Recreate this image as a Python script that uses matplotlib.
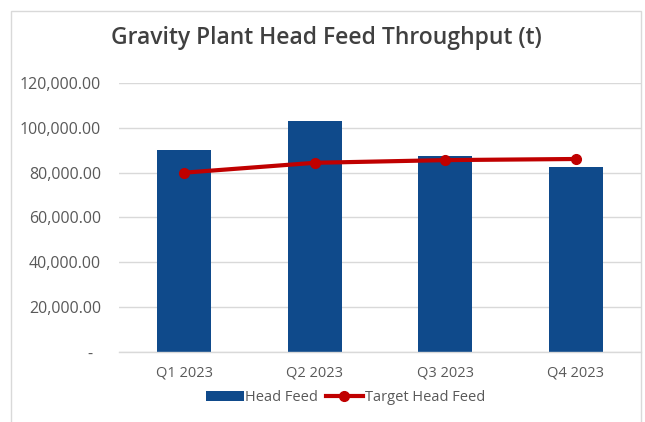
import matplotlib.pyplot as plt
import matplotlib.ticker as mticker
from matplotlib.patches import Rectangle
import numpy as np

quarters = ["Q1 2023", "Q2 2023", "Q3 2023", "Q4 2023"]
head_feed = [90100, 102900, 87400, 82600]
target_head_feed = [80000, 84400, 85600, 86100]

plt.rcParams['font.family'] = ['Open Sans', 'DejaVu Sans']

fig = plt.figure(figsize=(6.45, 4.22), dpi=100)
ax = fig.add_axes([119 / 645, 1 - 352 / 422, (641 - 119) / 645, (352 - 83) / 422])

x = np.arange(len(quarters))
bars = ax.bar(x, head_feed, width=0.41, color='#0F4A8B', label='Head Feed', zorder=2)
line, = ax.plot(x, target_head_feed, color='#C00000', lw=3, marker='o', ms=7,
                label='Target Head Feed', zorder=3)

ax.set_xlim(-0.5, 3.5)
ax.set_ylim(0, 120000)
ax.set_yticks(np.arange(0, 120001, 20000))


def fmt(v, pos):
    if v == 0:
        return '-  '
    return '{:,.2f}'.format(v)


ax.yaxis.set_major_formatter(mticker.FuncFormatter(fmt))
ax.set_xticks(x)
ax.set_xticklabels(quarters)
ax.tick_params(axis='both', length=0, colors='#595959')
ax.tick_params(axis='y', pad=13, labelsize=11.5)
ax.tick_params(axis='x', pad=10, labelsize=10.5)
ax.grid(axis='y', color='#D9D9D9', lw=1, zorder=0)
for s in ['top', 'right', 'left']:
    ax.spines[s].set_visible(False)
ax.spines['bottom'].set_color('#D9D9D9')
ax.spines['bottom'].set_linewidth(1)

fig.text(326 / 645, 1 - 38 / 422, 'Gravity Plant Head Feed Throughput (t)',
         ha='center', va='center', fontsize=16.5, fontweight='semibold', color='#404040')

ax.legend([bars, line], ['Head Feed', 'Target Head Feed'],
          loc='center', bbox_to_anchor=(0.434, -0.17), ncol=2, frameon=False,
          fontsize=10.5, labelcolor='#595959', handlelength=2.6, handletextpad=0.1,
          columnspacing=0.5)

fig.patches.append(Rectangle((11 / 645, -0.1), 630 / 645, 1.1 - 11 / 422,
                             transform=fig.transFigure, fill=False,
                             edgecolor='#D9D9D9', lw=1))

plt.savefig('out.png', dpi=100)
